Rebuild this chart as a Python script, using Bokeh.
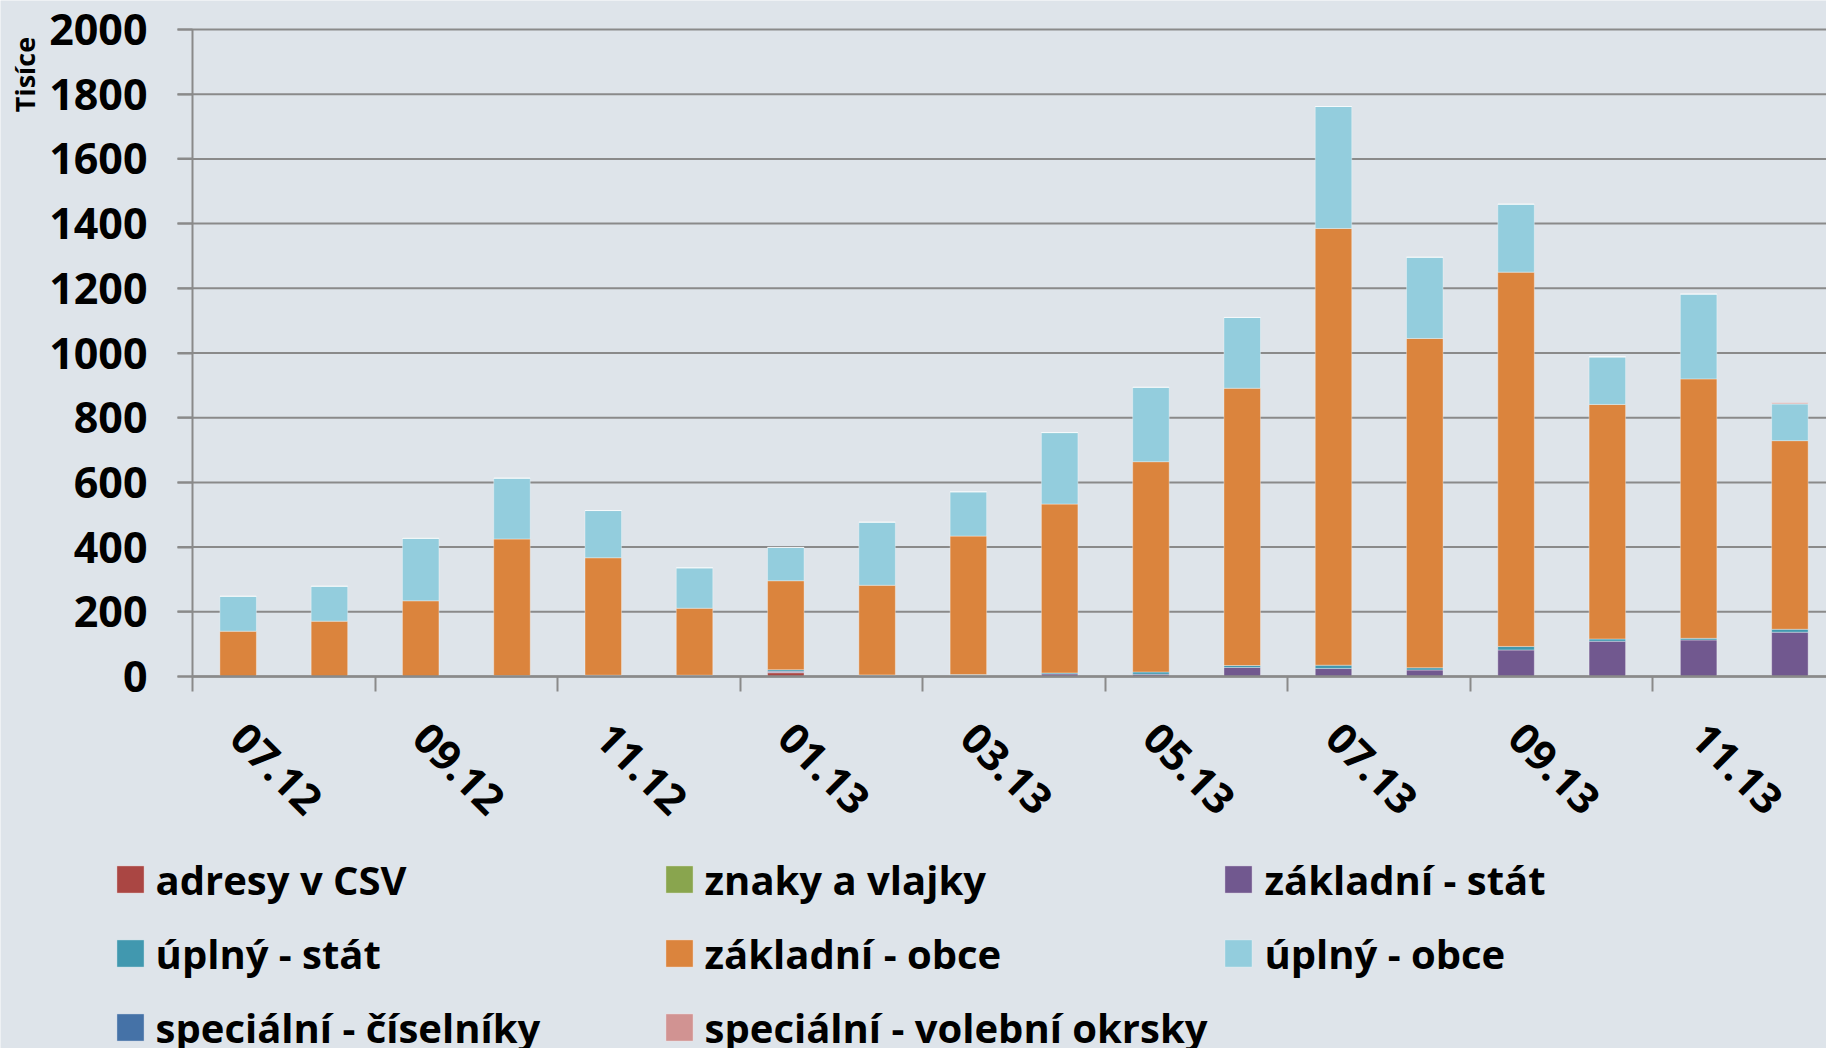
from math import pi
from bokeh.plotting import figure
from bokeh.models import (ColumnDataSource, Range1d, FixedTicker, Legend, LegendItem, Label)
from bokeh.embed import file_html
from bokeh.resources import INLINE

months = ["07.12", "08.12", "09.12", "10.12", "11.12", "12.12", "01.13", "02.13", "03.13",
          "04.13", "05.13", "06.13", "07.13", "08.13", "09.13", "10.13", "11.13", "12.13"]
tick_labels = ["07.12", "09.12", "11.12", "01.13", "03.13", "05.13", "07.13", "09.13", "11.13"]
y_ticks = [0, 200, 400, 600, 800, 1000, 1200, 1400, 1600, 1800, 2000]

adresy_csv = [0, 0, 0, 0, 0, 0, 12, 0, 0, 0, 0, 0, 0, 0, 0, 0, 0, 0]
znaky_vlajky = [0, 0, 0, 0, 0, 0, 0, 0, 0, 0, 0, 0, 0, 0, 0, 0, 0, 0]
zakladni_stat = [0, 0, 0, 1, 3, 3, 4, 3, 3, 8, 7, 28, 25, 20, 82, 109, 113, 137]
uplny_stat = [0, 0, 0, 1, 1, 1, 5, 2, 3, 3, 7, 6, 10, 7, 11, 7, 5, 9]
zakladni_obce = [140, 171, 234, 423, 363, 207, 275, 277, 428, 522, 650, 857, 1350, 1018, 1157, 725, 802, 583]
uplny_obce = [108, 108, 193, 188, 146, 125, 103, 195, 137, 221, 230, 219, 377, 251, 210, 147, 262, 114]
specialni_ciselniky = [0, 0, 0, 0, 0, 0, 0, 0, 0, 0, 0, 0, 0, 0, 0, 0, 0, 0]
specialni_volebni = [0, 0, 0, 0, 0, 0, 0, 0, 0, 0, 0, 0, 0, 0, 0, 0, 0, 3]

series_names = ["adresy v CSV", "znaky a vlajky", "základní - stát", "úplný - stát",
                "základní - obce", "úplný - obce", "speciální - číselníky",
                "speciální - volební okrsky"]
series_keys = ["adresy", "znaky", "zstat", "ustat", "zobce", "uobce", "sc", "sv"]
series_colors = ["#AA4643", "#89A54E", "#71588F", "#4198AF", "#DB843D", "#93CDDD",
                 "#4572A7", "#D19392"]

BG = "#DEE4EA"
GRID = "#8A8A8A"
FONT = "Open Sans"

W, H = 1826, 1048
PX_X = 91.28          # pixels per month
PX_Y = 0.3235         # pixels per thousand
X0_PX, Y0_PX = 192, 676   # where the axes cross, in canvas pixels

source = ColumnDataSource(dict(
    x=[i + 0.5 for i in range(len(months))],
    month=months,
    adresy=adresy_csv, znaky=znaky_vlajky, zstat=zakladni_stat, ustat=uplny_stat,
    zobce=zakladni_obce, uobce=uplny_obce, sc=specialni_ciselniky, sv=specialni_volebni,
))

p = figure(width=W, height=H, output_backend="svg", toolbar_location=None,
           x_range=Range1d(-X0_PX / PX_X, (W - X0_PX) / PX_X),
           y_range=Range1d(-(H - Y0_PX) / PX_Y, Y0_PX / PX_Y),
           background_fill_color=BG, border_fill_color=BG, outline_line_color=None,
           min_border_left=0, min_border_right=0, min_border_top=0, min_border_bottom=0)
p.grid.grid_line_color = None

# horizontal gridlines from the tick marks across the plot
p.segment(x0=-15 / PX_X, x1=(W - X0_PX) / PX_X, y0=y_ticks, y1=y_ticks,
          line_color=GRID, line_width=2)

renderers = p.vbar_stack(series_keys, x="x", width=0.4, source=source,
                         color=series_colors, line_color="#ffffff", line_alpha=0.35,
                         line_width=1)

# y axis (fixed at x = 0)
p.yaxis.fixed_location = 0
p.yaxis.bounds = (0, 2000)
p.yaxis.ticker = FixedTicker(ticks=y_ticks)
p.yaxis.axis_line_color = GRID
p.yaxis.axis_line_width = 2
p.yaxis.major_tick_line_color = GRID
p.yaxis.major_tick_line_width = 2
p.yaxis.major_tick_out = 15
p.yaxis.major_tick_in = 0
p.yaxis.minor_tick_line_color = None
p.yaxis.major_label_text_font = FONT
p.yaxis.major_label_text_font_style = "bold"
p.yaxis.major_label_text_font_size = "43px"
p.yaxis.major_label_text_color = "#000000"
p.yaxis.major_label_standoff = 30

# x axis (fixed at y = 0): labels every other month, ticks at month boundaries
label_pos = [i + 0.5 for i in range(0, len(months), 2)]
p.xaxis.fixed_location = 0
p.xaxis.bounds = (0, (W - X0_PX) / PX_X)
p.xaxis.ticker = FixedTicker(ticks=label_pos, minor_ticks=[float(i) for i in range(0, len(months), 2)])
p.xaxis.major_label_overrides = {pos: lab for pos, lab in zip(label_pos, tick_labels)}
p.xaxis.major_label_orientation = -pi / 4
p.xaxis.axis_line_color = GRID
p.xaxis.axis_line_width = 2.5
p.xaxis.major_tick_line_color = None
p.xaxis.major_tick_out = 0
p.xaxis.major_tick_in = 0
p.xaxis.minor_tick_line_color = GRID
p.xaxis.minor_tick_line_width = 2
p.xaxis.minor_tick_out = 15
p.xaxis.minor_tick_in = 0
p.xaxis.major_label_text_font = FONT
p.xaxis.major_label_text_font_style = "bold"
p.xaxis.major_label_text_font_size = "42px"
p.xaxis.major_label_text_color = "#000000"
p.xaxis.major_label_standoff = 39

# unit label at the top of the value axis
p.add_layout(Label(x=(24 - X0_PX) / PX_X, y=(Y0_PX - 74) / PX_Y, text="Tisíce", angle=pi / 2,
                   text_align="center", text_baseline="middle",
                   text_font=FONT, text_font_style="bold", text_font_size="27px",
                   text_color="#000000"))

legend = Legend(items=[LegendItem(label=n, renderers=[r]) for n, r in zip(series_names, renderers)],
                orientation="horizontal", ncols=3, location=(112.6, -9),
                label_width=492, label_height=60, glyph_width=34, glyph_height=34,
                label_standoff=9, spacing=14, padding=0, margin=0,
                border_line_alpha=0, background_fill_alpha=0,
                label_text_font=FONT, label_text_font_style="bold",
                label_text_font_size="40px", label_text_color="#000000")
p.add_layout(legend, "center")

open("out.html", "w").write(file_html(p, INLINE))
